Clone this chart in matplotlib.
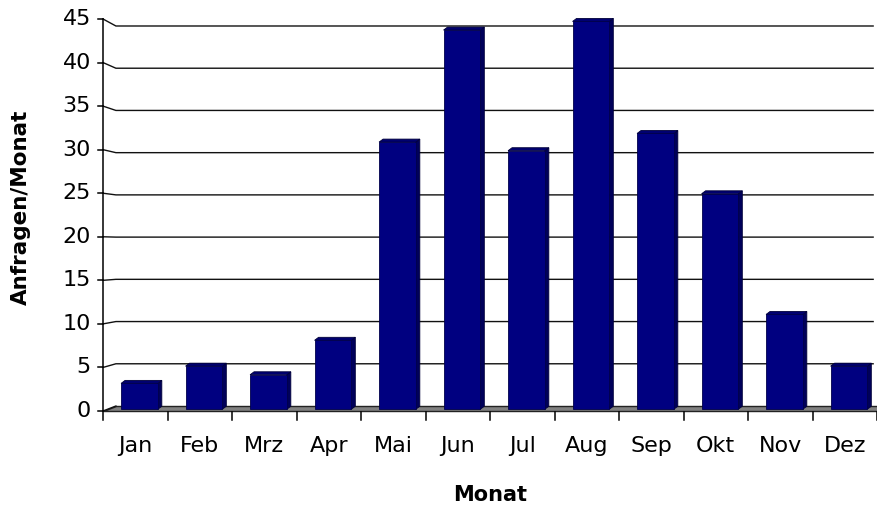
import numpy as np
import matplotlib.pyplot as plt
from matplotlib.patches import Polygon

# ----- Daten -----
monate = ['Jan', 'Feb', 'Mrz', 'Apr', 'Mai', 'Jun', 'Jul', 'Aug', 'Sep', 'Okt', 'Nov', 'Dez']
anfragen = [3, 5, 4, 8, 31, 44, 30, 45, 32, 25, 11, 5]
y_ticks = [0, 5, 10, 15, 20, 25, 30, 35, 40, 45]

# 3D-Effekt (Excel-Stil): Rueckwand leicht versetzt
depth_dx = 0.2
def back(v):
    return 0.574 + v * 0.9694

def mid(v, frac=0.35):
    return frac * back(v) + (1 - frac) * v

fig = plt.figure(figsize=(8.77, 5.08), dpi=100)
ax = fig.add_axes([103 / 877, (508 - 411) / 508, (877 - 103) / 877, (411 - 19) / 508])
ax.set_xlim(0, 12)
ax.set_ylim(0, 45)
ax.axis('off')

# Boden
floor = Polygon([(0, 0), (12.1, 0), (12.1, back(0)), (depth_dx, back(0))],
                closed=True, facecolor='#808080', edgecolor='#222222', lw=1, clip_on=False, zorder=1)
ax.add_patch(floor)

# Gitternetzlinien
for v in y_ticks[1:]:
    ax.plot([0, depth_dx, 11.94], [v, back(v), back(v)], color='#111111', lw=1.0,
            clip_on=False, zorder=2, solid_joinstyle='miter')
ax.plot([0, depth_dx], [0, back(0)], color='#111111', lw=1.0, clip_on=False, zorder=2)

# Achsen
ax.plot([0, 0], [-1.0, 45], color='black', lw=1.1, clip_on=False, zorder=6)
for v in y_ticks:
    ax.plot([-5 / 64.5, 0], [v, v], color='black', lw=1.1, clip_on=False, zorder=6)
    ax.text(-12 / 64.5, v, str(v), ha='right', va='center', fontsize=16, clip_on=False)
for i in range(1, 13):
    ax.plot([i, i], [-0.15, -1.0], color='black', lw=1.1, clip_on=False, zorder=6)
for i, m in enumerate(monate):
    ax.text(i + 0.5, -4.0, m, ha='center', va='center', fontsize=16, clip_on=False)

# Balken
w = 0.57
sx, sy = 4 / 64.5, 3 / 8.711
for i, v in enumerate(anfragen):
    x0 = i + 0.28
    y0 = mid(0)
    y1 = mid(v)
    front = Polygon([(x0, y0), (x0 + w, y0), (x0 + w, y1), (x0, y1)],
                    facecolor='#000080', edgecolor='#00004a', lw=0.6, zorder=4, clip_on=False)
    side = Polygon([(x0 + w, y0), (x0 + w + sx, y0 + sy), (x0 + w + sx, y1 + sy), (x0 + w, y1)],
                   facecolor='#00005a', edgecolor='#00003a', lw=0.6, zorder=4, clip_on=False)
    top = Polygon([(x0, y1), (x0 + w, y1), (x0 + w + sx, y1 + sy), (x0 + sx, y1 + sy)],
                  facecolor='#000070', edgecolor='#00003a', lw=0.6, zorder=4, clip_on=False)
    for p in (side, top, front):
        ax.add_patch(p)

# Achsentitel
fig.text(490 / 877, 1 - 495 / 508, 'Monat', ha='center', va='center', fontsize=15, fontweight='bold')
fig.text(21 / 877, 1 - 207 / 508, 'Anfragen/Monat', ha='center', va='center', rotation=90,
         fontsize=15.5, fontweight='bold')

fig.savefig('out.png', dpi=100)
